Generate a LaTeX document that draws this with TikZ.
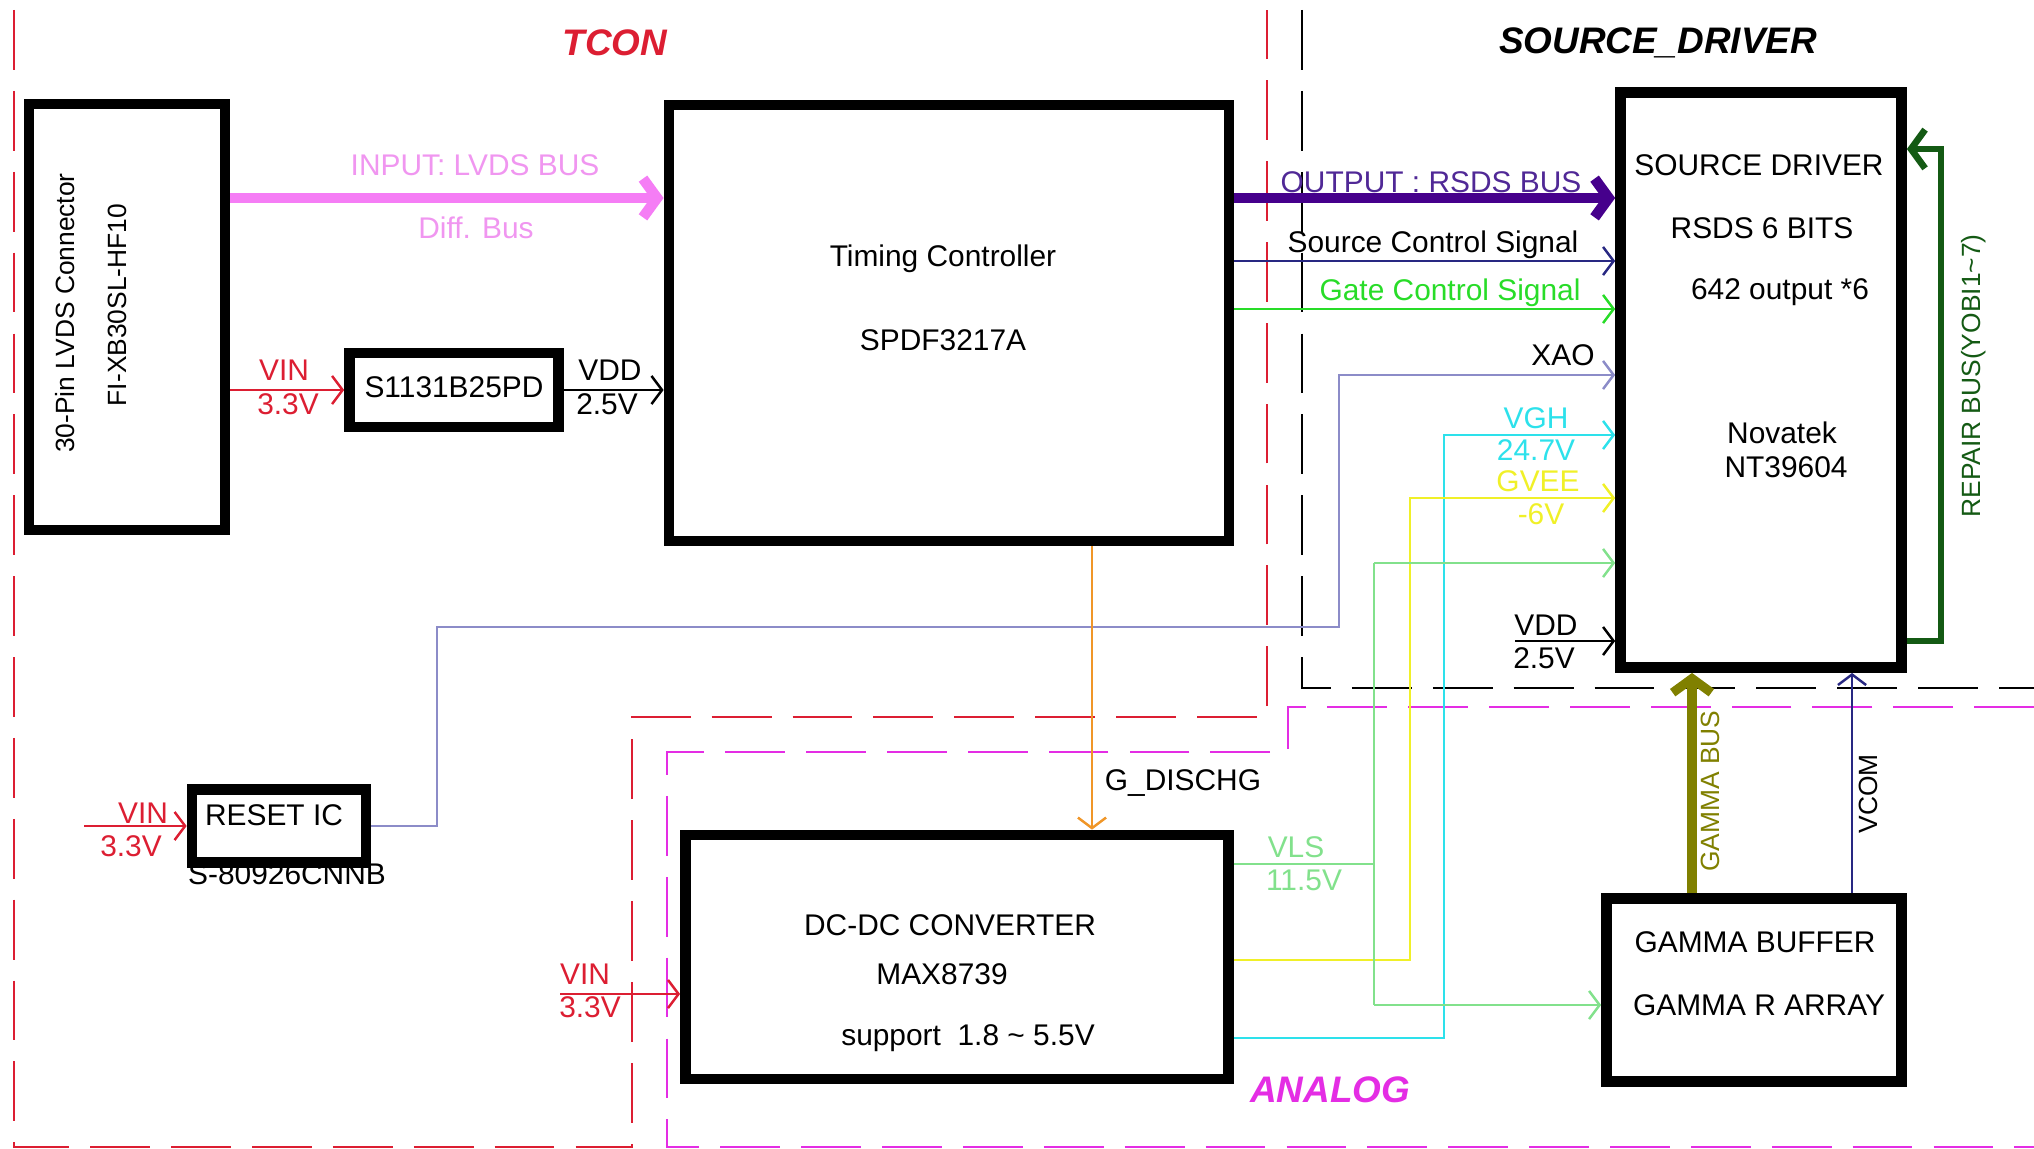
\documentclass[tikz,border=0pt]{standalone}
\usepackage{fontspec}
\setmainfont{Liberation Sans}
\usetikzlibrary{arrows.meta}

\definecolor{zoneRed}{RGB}{220,30,50}
\definecolor{zoneMag}{RGB}{228,45,228}
\definecolor{lvdsPink}{RGB}{245,125,245}
\definecolor{lvdsText}{RGB}{240,150,240}
\definecolor{rsdsPurple}{RGB}{70,0,140}
\definecolor{rsdsText}{RGB}{80,40,150}
\definecolor{ctrlNavy}{RGB}{40,40,130}
\definecolor{gateGreen}{RGB}{40,220,40}
\definecolor{xaoLav}{RGB}{140,140,200}
\definecolor{vghCyan}{RGB}{45,225,235}
\definecolor{gveeYel}{RGB}{240,240,40}
\definecolor{vlsGreen}{RGB}{130,225,140}
\definecolor{dischOrange}{RGB}{240,150,40}
\definecolor{gammaOlive}{RGB}{128,128,0}
\definecolor{repairGreen}{RGB}{20,90,20}

\begin{document}
\begin{tikzpicture}[x=0.01cm, y=-0.01cm,
    font=\fontsize{8.5}{10}\selectfont,
    block/.style={draw, line width=3pt, inner sep=0pt},
    lbl/.style={inner sep=1pt},
    vlbl/.style={inner sep=1pt, rotate=90, font=\fontsize{7.5}{9}\selectfont},
    zone/.style={line width=0.7pt, dash pattern=on 17pt off 6pt},
    zonetitle/.style={font=\fontsize{10.5}{12}\selectfont\bfseries\itshape},
    sig/.style={line width=0.7pt, -{Straight Barb[length=3pt,width=8pt]}},
    bus/.style={line width=3pt, -{Straight Barb[length=4pt,width=11pt]}}]
  \useasboundingbox (0,0) rectangle (2034,1149);

  % Zone borders
  \draw[zone, zoneRed] (14,10) -- (14,1147) -- (632,1147) -- (632,717) -- (1267,717) -- (1267,10);
  \draw[zone, black] (1302,10) -- (1302,688) -- (2034,688);
  \draw[zone, zoneMag] (2034,707) -- (1288,707) -- (1288,752) -- (667,752) -- (667,1147) -- (2034,1147);
  \node[zonetitle, zoneRed] (tTcon) at (615,43) {TCON};
  \node[zonetitle] (tSrc) at (1658,43) {SOURCE\_DRIVER};
  \node[zonetitle, zoneMag] (tAna) at (1330,1090) {ANALOG};

  % Label hidden partly under the reset box
  \node[lbl] (resetB) at (287,874) {S-80926CNNB};

  % Blocks
  \node[block, minimum width=1.96cm, minimum height=4.26cm] (conn) at (127,317) {};
  \node[block, minimum width=2.09cm, minimum height=0.74cm] (s1131) at (454,390) {};
  \node[block, minimum width=5.60cm, minimum height=4.36cm] (tcon) at (949,323) {};
  \node[block, minimum width=2.81cm, minimum height=5.75cm] (sd) at (1761,380) {};
  \node[block, minimum width=1.74cm, minimum height=0.73cm] (reset) at (279,826) {};
  \node[block, minimum width=5.43cm, minimum height=2.44cm] (dc) at (957,957) {};
  \node[block, minimum width=2.95cm, minimum height=1.83cm] (gamma) at (1754,990) {};

  % Block texts
  \node[vlbl] (connA) at (65,313) {30-Pin LVDS Connector};
  \node[vlbl] (connB) at (117,305) {FI-XB30SL-HF10};
  \node[lbl] (s1131A) at (454,387) {S1131B25PD};
  \node[lbl] (tconA) at (943,259) {Timing Controller};
  \node[lbl] (tconB) at (943,340) {SPDF3217A};
  \node[lbl] (sdA) at (1759,165) {SOURCE DRIVER};
  \node[lbl] (sdB) at (1762,228) {RSDS 6 BITS};
  \node[lbl] (sdC) at (1780,292) {642 output *6};
  \node[lbl] (sdD) at (1782,433) {Novatek};
  \node[lbl] (sdE) at (1786,467) {NT39604};
  \node[lbl] (resetA) at (274,815) {RESET IC};
  \node[lbl] (dcA) at (950,925) {DC-DC CONVERTER};
  \node[lbl] (dcB) at (942,974) {MAX8739};
  \node[lbl] (dcC) at (968,1038) {support\ \ 1.8 \textasciitilde{} 5.5V};
  \node[lbl] (gammaA) at (1755,942) {GAMMA BUFFER};
  \node[lbl] (gammaB) at (1759,1005) {GAMMA R ARRAY};

  % Rows and bends
  \coordinate (rowBus) at (0,198);
  \coordinate (rowSrc) at (0,261);
  \coordinate (rowGate) at (0,309);
  \coordinate (colDis) at (1092,0);
  \coordinate (colGam) at (1692,0);
  \coordinate (colCom) at (1852,0);
  \coordinate (xaoA) at (437,627);
  \coordinate (xaoB) at (1339,375);
  \coordinate (vghA) at (1444,1038);
  \coordinate (vghB) at (1444,435);
  \coordinate (gveeA) at (1410,960);
  \coordinate (gveeB) at (1410,498);
  \coordinate (vlsJ) at (1374,864);
  \coordinate (vlsTop) at (1374,563);
  \coordinate (vlsBot) at (1374,1005);
  \coordinate (vddSd) at (1515,641);
  \coordinate (vinR) at (84,826);
  \coordinate (vinD) at (560,994);
  \coordinate (repA) at (1941,641);
  \coordinate (repB) at (1941,149);

  % TCON side
  \draw[bus, lvdsPink] (conn.east |- rowBus) -- (tcon.west |- rowBus);
  \node[lbl, lvdsText] (lvdsA) at (475,165) {INPUT: LVDS BUS};
  \node[lbl, lvdsText] (lvdsB) at (476,228) {Diff. Bus};
  \draw[sig, zoneRed] (conn.east |- s1131.west) -- (s1131.west);
  \node[lbl, zoneRed] (vinA1) at (284,370) {VIN};
  \node[lbl, zoneRed] (vinA2) at (288,404) {3.3V};
  \draw[sig] (s1131.east) -- (tcon.west |- s1131.east);
  \node[lbl] (vddA1) at (610,370) {VDD};
  \node[lbl] (vddA2) at (607,404) {2.5V};

  % TCON to source driver
  \draw[bus, rsdsPurple] (tcon.east |- rowBus) -- (sd.west |- rowBus);
  \node[lbl, rsdsText] (rsdsA) at (1431,182) {OUTPUT : RSDS BUS};
  \draw[sig, ctrlNavy] (tcon.east |- rowSrc) -- (sd.west |- rowSrc);
  \node[lbl] (srcA) at (1433,245) {Source Control Signal};
  \draw[sig, gateGreen] (tcon.east |- rowGate) -- (sd.west |- rowGate);
  \node[lbl, gateGreen] (gateA) at (1450,293) {Gate Control Signal};

  % Reset
  \draw[sig, zoneRed] (vinR) -- (reset.west);
  \node[lbl, zoneRed] (vinB1) at (143,813) {VIN};
  \node[lbl, zoneRed] (vinB2) at (131,846) {3.3V};
  \draw[sig, xaoLav] (reset.east) -| (xaoA) -| (xaoB) -- (sd.west |- xaoB);
  \node[lbl] (xaoL) at (1563,355) {XAO};

  % DC-DC outputs
  \draw[sig, dischOrange] (tcon.south -| colDis) -- (dc.north -| colDis);
  \node[lbl] (dischL) at (1183,783) {G\_DISCHG};
  \draw[sig, zoneRed] (vinD) -- (dc.west |- vinD);
  \node[lbl, zoneRed] (vinC1) at (585,974) {VIN};
  \node[lbl, zoneRed] (vinC2) at (590,1007) {3.3V};
  \draw[sig, vghCyan] (dc.east |- vghA) -- (vghA) -- (vghB) -- (sd.west |- vghB);
  \node[lbl, vghCyan] (vghL1) at (1536,418) {VGH};
  \node[lbl, vghCyan] (vghL2) at (1536,450) {24.7V};
  \draw[sig, gveeYel] (dc.east |- gveeA) -- (gveeA) -- (gveeB) -- (sd.west |- gveeB);
  \node[lbl, gveeYel] (gveeL1) at (1538,481) {GVEE};
  \node[lbl, gveeYel] (gveeL2) at (1541,514) {-6V};
  \draw[vlsGreen, line width=0.7pt] (dc.east |- vlsJ) -- (vlsJ);
  \draw[vlsGreen, line width=0.7pt] (vlsTop) -- (vlsBot);
  \draw[sig, vlsGreen] (vlsTop) -- (sd.west |- vlsTop);
  \draw[sig, vlsGreen] (vlsBot) -- (gamma.west |- vlsBot);
  \node[lbl, vlsGreen] (vlsL1) at (1296,847) {VLS};
  \node[lbl, vlsGreen] (vlsL2) at (1304,880) {11.5V};
  \draw[sig] (vddSd) -- (sd.west |- vddSd);
  \node[lbl] (vddB1) at (1546,625) {VDD};
  \node[lbl] (vddB2) at (1544,658) {2.5V};

  % Gamma and repair
  \draw[bus, gammaOlive, line width=2.6pt] (gamma.north -| colGam) -- (sd.south -| colGam);
  \node[vlbl, gammaOlive] (gamL) at (1710,791) {GAMMA BUS};
  \draw[sig, ctrlNavy] (gamma.north -| colCom) -- (sd.south -| colCom);
  \node[vlbl] (comL) at (1868,794) {VCOM};
  \draw[bus, repairGreen, line width=1.9pt] (sd.east |- repA) -- (repA) -- (repB) -- (sd.east |- repB);
  \node[vlbl, repairGreen] (repL) at (1974,376) {REPAIR BUS(YOBI1\textasciitilde{}7)};
\end{tikzpicture}
\end{document}
